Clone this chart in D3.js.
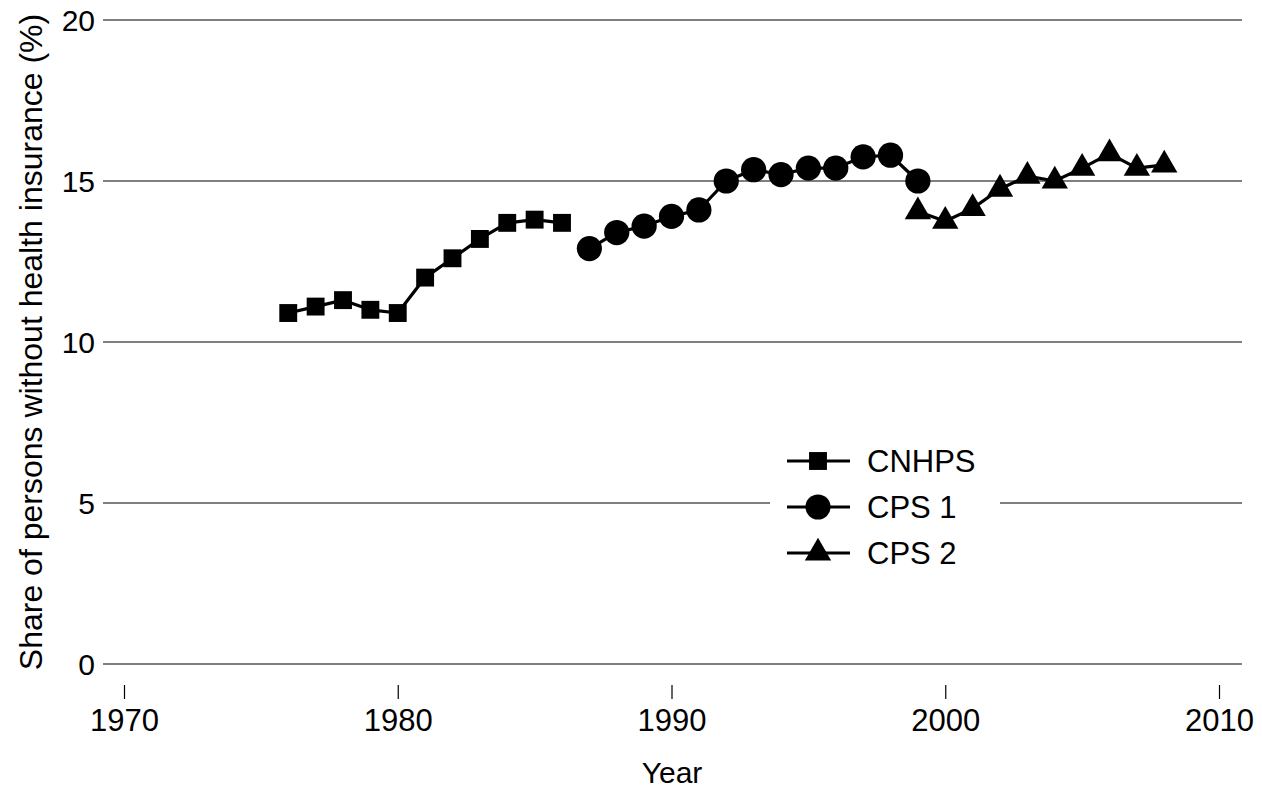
<!DOCTYPE html>
<html>
<head>
<meta charset="utf-8">
<script src="https://cdn.jsdelivr.net/npm/d3@7.9.0/dist/d3.min.js"></script>
<style>
  body { margin: 0; background: #fff; }
  text { font-family: "Liberation Sans", Arial, sans-serif; fill: #000; }
</style>
</head>
<body>
<svg width="1262" height="792"></svg>
<script>
// data
const cnhpsYears = [1976, 1977, 1978, 1979, 1980, 1981, 1982, 1983, 1984, 1985, 1986];
const cnhpsValues = [10.9, 11.1, 11.3, 11.0, 10.9, 12.0, 12.6, 13.2, 13.7, 13.8, 13.7];
const cps1Years = [1987, 1988, 1989, 1990, 1991, 1992, 1993, 1994, 1995, 1996, 1997, 1998, 1999];
const cps1Values = [12.9, 13.4, 13.6, 13.9, 14.1, 15.0, 15.35, 15.2, 15.4, 15.4, 15.75, 15.8, 15.0];
const cps2Years = [1999, 2000, 2001, 2002, 2003, 2004, 2005, 2006, 2007, 2008];
const cps2Values = [14.05, 13.75, 14.15, 14.75, 15.15, 15.0, 15.4, 15.85, 15.4, 15.5];
const xTicks = [1970, 1980, 1990, 2000, 2010];
const yTicks = [0, 5, 10, 15, 20];
const seriesNames = ['CNHPS', 'CPS 1', 'CPS 2'];

const svg = d3.select('svg');
const x = d3.scaleLinear().domain([1970, 2010]).range([124, 1219]);
const y = d3.scaleLinear().domain([0, 20]).range([664, 20]);

// gridlines (Stata style)
svg.append('g').selectAll('line')
  .data(yTicks)
  .join('line')
  .attr('x1', 103).attr('x2', 1242)
  .attr('y1', d => y(d)).attr('y2', d => y(d))
  .attr('stroke', '#000').attr('stroke-width', 1.2);

// y axis labels
svg.append('g').selectAll('text')
  .data(yTicks)
  .join('text')
  .attr('x', 95).attr('y', d => y(d))
  .attr('dy', '0.36em')
  .attr('text-anchor', 'end')
  .attr('font-size', 30)
  .text(d => d);

// x axis
const xAxis = d3.axisBottom(x).tickValues(xTicks).tickSize(14).tickPadding(10).tickFormat(d3.format('d'));
const gx = svg.append('g').attr('transform', 'translate(0,685)').call(xAxis);
gx.select('.domain').remove();
gx.selectAll('.tick line').attr('stroke', '#000').attr('stroke-width', 1.2);
gx.selectAll('.tick text').attr('font-size', 31).attr('font-family', '"Liberation Sans", Arial, sans-serif').attr('fill', '#000');

svg.append('text')
  .attr('x', 672).attr('y', 783)
  .attr('text-anchor', 'middle')
  .attr('font-size', 30)
  .text('Year');

svg.append('text')
  .attr('transform', 'translate(42,342) rotate(-90)')
  .attr('text-anchor', 'middle')
  .attr('font-size', 32)
  .text('Share of persons without health insurance (%)');

const line = d3.line().x(d => x(d[0])).y(d => y(d[1]));
const sym = {
  square: d3.symbol().type(d3.symbolSquare).size(320),
  circle: d3.symbol().type(d3.symbolCircle).size(500),
  triangle: d3.symbol().type(d3.symbolTriangle).size(300)
};

const series = [
  { years: cnhpsYears, values: cnhpsValues, shape: sym.square },
  { years: cps1Years, values: cps1Values, shape: sym.circle },
  { years: cps2Years, values: cps2Values, shape: sym.triangle }
];

series.forEach(s => {
  const pts = s.years.map((yr, i) => [yr, s.values[i]]);
  svg.append('path')
    .attr('d', line(pts))
    .attr('fill', 'none')
    .attr('stroke', '#000')
    .attr('stroke-width', 3.2)
    .attr('stroke-linejoin', 'round');
  svg.append('g').selectAll('path')
    .data(pts)
    .join('path')
    .attr('transform', d => `translate(${x(d[0])},${y(d[1])})`)
    .attr('d', s.shape())
    .attr('fill', '#000');
});

// legend
const lg = svg.append('g');
lg.append('rect')
  .attr('x', 770).attr('y', 436).attr('width', 230).attr('height', 142)
  .attr('fill', '#fff');
seriesNames.forEach((name, i) => {
  const ly = 461 + i * 46;
  lg.append('line')
    .attr('x1', 787).attr('x2', 850).attr('y1', ly).attr('y2', ly)
    .attr('stroke', '#000').attr('stroke-width', 3.2);
  lg.append('path')
    .attr('transform', `translate(818,${ly})`)
    .attr('d', series[i].shape())
    .attr('fill', '#000');
  lg.append('text')
    .attr('x', 867).attr('y', ly)
    .attr('dy', '0.36em')
    .attr('font-size', 31)
    .text(name);
});
</script>
</body>
</html>
